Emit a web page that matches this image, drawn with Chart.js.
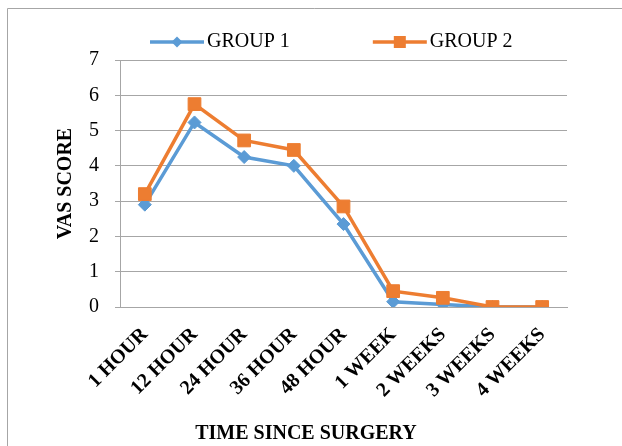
<!DOCTYPE html>
<html>
<head>
<meta charset="utf-8">
<script src="https://cdn.jsdelivr.net/npm/chart.js@4"></script>
<style>
  body { margin: 0; background: #fff; }
  canvas { display: block; }
</style>
</head>
<body>
<canvas id="vasChart" width="622" height="446"></canvas>
<script>
// data
const timePoints = ['1 HOUR', '12 HOUR', '24 HOUR', '36 HOUR', '48 HOUR', '1 WEEK', '2 WEEKS', '3 WEEKS', '4 WEEKS'];
const group1 = [2.9, 5.23, 4.25, 4.0, 2.35, 0.15, 0.07, 0, 0];
const group2 = [3.2, 5.75, 4.72, 4.45, 2.85, 0.45, 0.26, 0, 0];
const yTicks = [0, 1, 2, 3, 4, 5, 6, 7];

const blue = '#5b9bd5';
const orange = '#ed7d31';
const gridGray = '#a6a6a6';
const serif = "'Liberation Serif', 'Times New Roman', serif";

// legend symbol: short line with the marker in the middle (Excel style)
function legendSymbol(color, shape) {
    const c = document.createElement('canvas');
    c.width = 140;
    c.height = 16;
    const g = c.getContext('2d');
    g.strokeStyle = color;
    g.lineWidth = 3.5;
    g.beginPath();
    g.moveTo(82, 8);
    g.lineTo(136, 8);
    g.stroke();
    g.fillStyle = color;
    if (shape === 'diamond') {
        g.beginPath();
        g.moveTo(109, 2.5);
        g.lineTo(114.5, 8);
        g.lineTo(109, 13.5);
        g.lineTo(103.5, 8);
        g.closePath();
        g.fill();
    } else {
        g.fillRect(103, 2, 12, 12);
    }
    return c;
}

const symbol1 = legendSymbol(blue, 'diamond');
const symbol2 = legendSymbol(orange, 'square');

// frame around the chart + legend nudge
const framePlugin = {
    id: 'frame',
    afterLayout(chart) {
        chart.legend.left = 67;
    },
    beforeDraw(chart) {
        const ctx = chart.ctx;
        ctx.save();
        ctx.fillStyle = '#fff';
        ctx.fillRect(0, 0, chart.width, chart.height);
        ctx.strokeStyle = '#a6a6a6';
        ctx.lineWidth = 1;
        ctx.beginPath();
        ctx.moveTo(7.5, chart.height);
        ctx.lineTo(7.5, 8.5);
        ctx.lineTo(chart.width, 8.5);
        ctx.stroke();
        ctx.restore();
    }
};

const ctx = document.getElementById('vasChart').getContext('2d');

new Chart(ctx, {
    type: 'line',
    data: {
        labels: timePoints,
        datasets: [
            {
                label: 'GROUP 1',
                data: group1,
                borderColor: blue,
                backgroundColor: blue,
                borderWidth: 3.5,
                pointStyle: 'rectRot',
                pointRadius: 6.5,
                pointBorderWidth: 1,
                tension: 0,
                order: 2
            },
            {
                label: 'GROUP 2',
                data: group2,
                borderColor: orange,
                backgroundColor: orange,
                borderWidth: 3.5,
                pointStyle: 'rect',
                pointRadius: 9,
                pointBorderWidth: 1,
                tension: 0,
                order: 1
            }
        ]
    },
    options: {
        responsive: false,
        animation: false,
        devicePixelRatio: 1,
        layout: {
            padding: { left: 45, right: 55, top: 20, bottom: 0 }
        },
        plugins: {
            legend: {
                position: 'top',
                align: 'start',
                maxHeight: 40,
                labels: {
                    usePointStyle: true,
                    pointStyleWidth: 118,
                    padding: 12,
                    color: '#000',
                    font: { family: serif, size: 20 },
                    generateLabels: () => [
                        { text: 'GROUP 1', pointStyle: symbol1, fillStyle: blue, strokeStyle: blue, lineWidth: 0, hidden: false, datasetIndex: 0 },
                        { text: 'GROUP 2', pointStyle: symbol2, fillStyle: orange, strokeStyle: orange, lineWidth: 0, hidden: false, datasetIndex: 1 }
                    ]
                }
            },
            // x axis title sits under the whole chart, like Excel does
            title: {
                display: true,
                position: 'bottom',
                text: 'TIME SINCE SURGERY',
                color: '#000',
                font: { family: serif, size: 20, weight: 'bold' },
                padding: { top: 0, bottom: 0 }
            },
            tooltip: { enabled: false }
        },
        scales: {
            x: {
                offset: true,
                grid: { display: false, drawTicks: false },
                border: { display: true, color: gridGray, width: 1 },
                ticks: {
                    color: '#000',
                    font: { family: serif, size: 20, weight: 'bold' },
                    minRotation: 45,
                    maxRotation: 45,
                    autoSkip: false,
                    padding: 16
                },
                afterFit(scale) {
                    scale.height = 115;
                }
            },
            y: {
                min: yTicks[0],
                max: yTicks[yTicks.length - 1],
                afterBuildTicks(scale) {
                    scale.ticks = yTicks.map(v => ({ value: v }));
                },
                grid: { color: gridGray, lineWidth: 1, tickLength: 5 },
                border: { display: true, color: gridGray, width: 1 },
                ticks: {
                    color: '#000',
                    font: { family: serif, size: 20 },
                    padding: 16
                },
                title: {
                    display: true,
                    text: 'VAS SCORE',
                    color: '#000',
                    font: { family: serif, size: 20, weight: 'bold' },
                    padding: { top: 9, bottom: 0 }
                },
                afterFit(scale) {
                    scale.width = 75;
                }
            }
        }
    },
    plugins: [framePlugin]
});
</script>
</body>
</html>
